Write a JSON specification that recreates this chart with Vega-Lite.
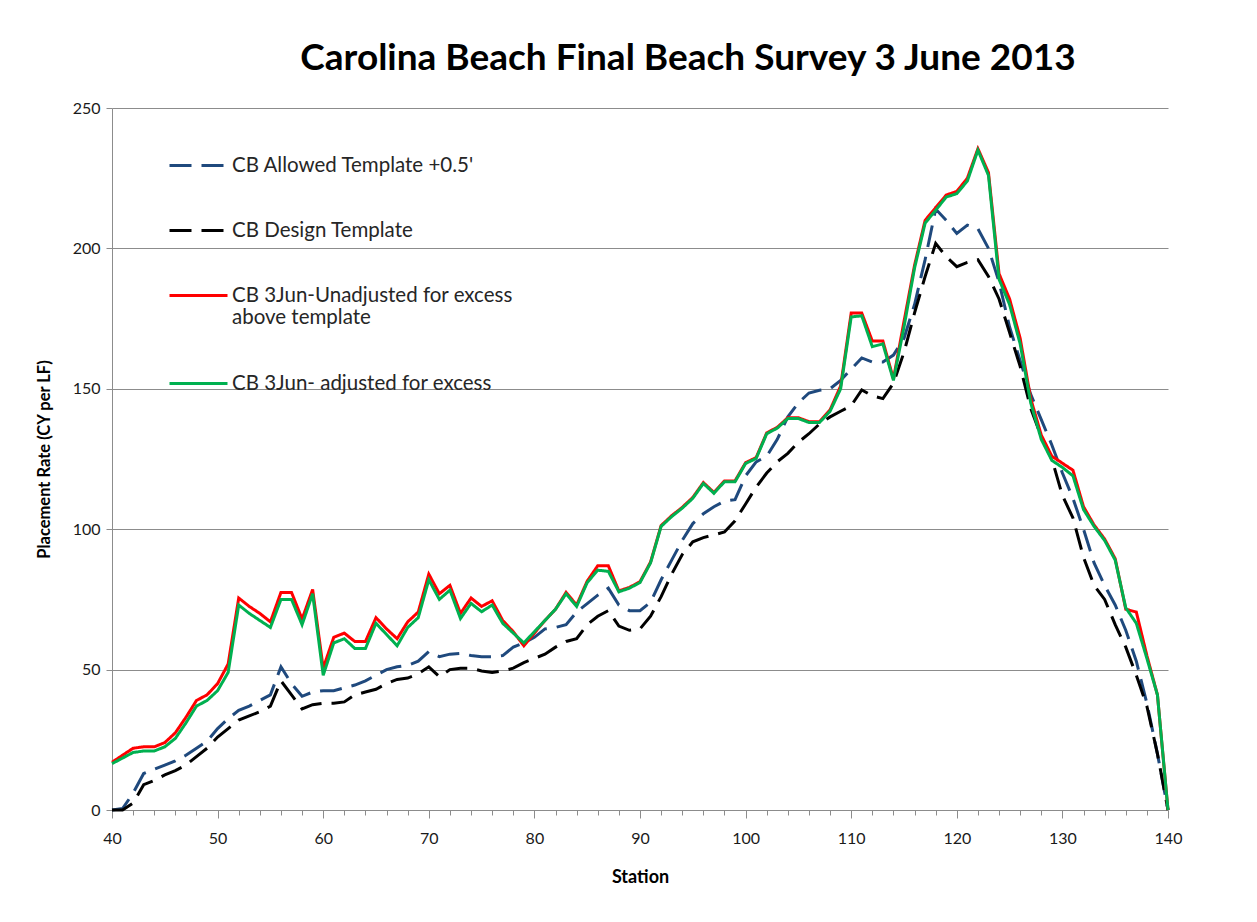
{
  "$schema": "https://vega.github.io/schema/vega-lite/v6.json",
  "width": 1056,
  "height": 702,
  "autosize": {"type": "none"},
  "padding": {"left": 112, "top": 108, "right": 89, "bottom": 112},
  "background": "white",
  "title": {"text": "Carolina Beach Final Beach Survey 3 June 2013", "font": "Lato", "fontSize": 37, "fontWeight": "bold", "color": "#000000", "anchor": "middle", "dx": 48, "offset": -7, "baseline": "alphabetic"},
  "config": {"view": {"stroke": null}},
  "data": {"values": [
    {"s":40,"A":0,"D":0,"U":17,"J":16.5},
    {"s":41,"A":0.5,"D":0,"U":19.5,"J":18.5},
    {"s":42,"A":6,"D":2.5,"U":22,"J":20.5},
    {"s":43,"A":13,"D":9,"U":22.5,"J":21},
    {"s":44,"A":14.5,"D":10.5,"U":22.5,"J":21},
    {"s":45,"A":16,"D":12.5,"U":24,"J":22.5},
    {"s":46,"A":17.5,"D":14,"U":27.5,"J":25.5},
    {"s":47,"A":19.5,"D":16,"U":33,"J":31},
    {"s":48,"A":22,"D":19,"U":39,"J":37},
    {"s":49,"A":24.5,"D":22,"U":41,"J":39},
    {"s":50,"A":29,"D":26,"U":45,"J":42.5},
    {"s":51,"A":32.5,"D":29,"U":52,"J":49},
    {"s":52,"A":35.5,"D":32,"U":75.5,"J":73},
    {"s":53,"A":37,"D":33.5,"U":72.5,"J":70},
    {"s":54,"A":39,"D":35,"U":70,"J":67.5},
    {"s":55,"A":41,"D":37,"U":67,"J":65},
    {"s":56,"A":51,"D":46,"U":77.5,"J":75},
    {"s":57,"A":45,"D":41,"U":77.5,"J":75},
    {"s":58,"A":40.5,"D":36,"U":68,"J":66},
    {"s":59,"A":42,"D":37.5,"U":78.5,"J":77},
    {"s":60,"A":42.5,"D":38,"U":50.5,"J":48},
    {"s":61,"A":42.5,"D":38,"U":61.5,"J":59.5},
    {"s":62,"A":43.5,"D":38.5,"U":63,"J":61},
    {"s":63,"A":44.5,"D":41,"U":60,"J":57.5},
    {"s":64,"A":46,"D":42,"U":60,"J":57.5},
    {"s":65,"A":48,"D":43,"U":68.5,"J":66.5},
    {"s":66,"A":50,"D":45,"U":64.5,"J":62.5},
    {"s":67,"A":51,"D":46.5,"U":61,"J":58.5},
    {"s":68,"A":51.5,"D":47,"U":67,"J":65},
    {"s":69,"A":53,"D":48.5,"U":70.5,"J":68.5},
    {"s":70,"A":56.4,"D":51,"U":84,"J":82},
    {"s":71,"A":54.6,"D":47.5,"U":77,"J":75},
    {"s":72,"A":55.5,"D":50,"U":80,"J":78.3},
    {"s":73,"A":55.8,"D":50.5,"U":70,"J":68.2},
    {"s":74,"A":55,"D":50.5,"U":75.5,"J":73.6},
    {"s":75,"A":54.6,"D":49.5,"U":72.5,"J":70.6},
    {"s":76,"A":54.6,"D":49,"U":74.5,"J":73},
    {"s":77,"A":55,"D":49.5,"U":67.5,"J":66.5},
    {"s":78,"A":58,"D":50.5,"U":63.5,"J":63},
    {"s":79,"A":59.5,"D":52.5,"U":58.5,"J":59.5},
    {"s":80,"A":61.5,"D":54,"U":63,"J":63.5},
    {"s":81,"A":64.5,"D":55.5,"U":67.5,"J":67.5},
    {"s":82,"A":65,"D":58,"U":71.5,"J":71.5},
    {"s":83,"A":66,"D":60,"U":77.5,"J":77},
    {"s":84,"A":70.5,"D":61,"U":73,"J":72.5},
    {"s":85,"A":73.5,"D":66,"U":81.5,"J":81},
    {"s":86,"A":76.5,"D":69,"U":87,"J":85.4},
    {"s":87,"A":79,"D":71,"U":87,"J":85},
    {"s":88,"A":73,"D":65.5,"U":78,"J":77.7},
    {"s":89,"A":71,"D":64,"U":79.3,"J":79},
    {"s":90,"A":71,"D":64.5,"U":81.3,"J":81},
    {"s":91,"A":74,"D":69,"U":88.3,"J":88},
    {"s":92,"A":82,"D":76,"U":101.3,"J":101},
    {"s":93,"A":89,"D":84,"U":104.8,"J":104.5},
    {"s":94,"A":96,"D":91,"U":107.8,"J":107.5},
    {"s":95,"A":102,"D":95.5,"U":111.3,"J":111},
    {"s":96,"A":105.5,"D":97,"U":116.6,"J":116.3},
    {"s":97,"A":108,"D":98,"U":113.1,"J":112.8},
    {"s":98,"A":110,"D":99,"U":117.2,"J":116.9},
    {"s":99,"A":110.5,"D":103,"U":117.2,"J":116.9},
    {"s":100,"A":119,"D":109,"U":123.7,"J":123.4},
    {"s":101,"A":124,"D":115,"U":125.5,"J":125.2},
    {"s":102,"A":126,"D":120,"U":134.3,"J":134},
    {"s":103,"A":132,"D":124,"U":136.3,"J":136},
    {"s":104,"A":140,"D":127,"U":139.7,"J":139.4},
    {"s":105,"A":145,"D":131,"U":139.7,"J":139.4},
    {"s":106,"A":148.5,"D":134,"U":138.3,"J":138},
    {"s":107,"A":149.5,"D":137.5,"U":138.3,"J":138},
    {"s":108,"A":150,"D":140,"U":142.5,"J":142},
    {"s":109,"A":153,"D":142,"U":151,"J":150},
    {"s":110,"A":157,"D":144,"U":177,"J":175.6},
    {"s":111,"A":161,"D":149.6,"U":177,"J":176},
    {"s":112,"A":159.5,"D":147.5,"U":167,"J":165},
    {"s":113,"A":159.5,"D":146.5,"U":167,"J":166},
    {"s":114,"A":162,"D":152,"U":153.5,"J":153},
    {"s":115,"A":168,"D":163,"U":174,"J":172},
    {"s":116,"A":180,"D":177,"U":194,"J":193},
    {"s":117,"A":196,"D":190,"U":210,"J":209},
    {"s":118,"A":214,"D":201.8,"U":214.5,"J":213.6},
    {"s":119,"A":210,"D":197,"U":219,"J":218.3},
    {"s":120,"A":205.3,"D":193.5,"U":220.3,"J":219.5},
    {"s":121,"A":208.3,"D":195,"U":225,"J":224},
    {"s":122,"A":207,"D":196,"U":235.5,"J":235},
    {"s":123,"A":200,"D":190,"U":227,"J":226},
    {"s":124,"A":188,"D":182,"U":191,"J":189},
    {"s":125,"A":172,"D":170,"U":182,"J":180},
    {"s":126,"A":160,"D":158,"U":168,"J":166},
    {"s":127,"A":148,"D":143,"U":146.5,"J":145},
    {"s":128,"A":139,"D":133,"U":133.5,"J":132},
    {"s":129,"A":130,"D":125,"U":126,"J":124.5},
    {"s":130,"A":120,"D":112,"U":123.5,"J":122},
    {"s":131,"A":111,"D":104,"U":121,"J":119},
    {"s":132,"A":100,"D":90,"U":108,"J":107},
    {"s":133,"A":88,"D":80,"U":101.5,"J":101},
    {"s":134,"A":80,"D":75,"U":96.5,"J":96},
    {"s":135,"A":73,"D":66,"U":89.5,"J":89},
    {"s":136,"A":64,"D":58,"U":71.5,"J":72},
    {"s":137,"A":53,"D":48,"U":70.5,"J":66.5},
    {"s":138,"A":38,"D":37,"U":55,"J":54},
    {"s":139,"A":20,"D":20,"U":41,"J":41},
    {"s":140,"A":0,"D":0,"U":0,"J":0}
  ]},
  "transform": [{"fold": ["A", "D", "U", "J"], "as": ["series", "value"]}],
  "mark": {"type": "line", "strokeWidth": 3},
  "encoding": {
    "x": {
      "field": "s", "type": "quantitative",
      "scale": {"domain": [40, 140], "nice": false, "zero": false},
      "axis": {
        "values": [40,42,44,46,48,50,52,54,56,58,60,62,64,66,68,70,72,74,76,78,80,82,84,86,88,90,92,94,96,98,100,102,104,106,108,110,112,114,116,118,120,122,124,126,128,130,132,134,136,138,140],
        "labelExpr": "datum.value % 10 === 0 ? datum.label : ''",
        "tickSize": {"condition": {"test": "datum.value % 10 === 0", "value": 8}, "value": 5},
        "labelOverlap": false, "labelFlush": false,
        "grid": false,
        "domainColor": "#8c8c8c", "tickColor": "#8c8c8c", "tickWidth": 1,
        "labelFont": "Lato", "labelFontSize": 16, "labelColor": "#1a1a1a", "labelPadding": 12,
        "title": "Station", "titleFont": "Lato", "titleFontSize": 18, "titleFontWeight": "bold", "titleColor": "#000000", "titlePadding": 22
      }
    },
    "y": {
      "field": "value", "type": "quantitative",
      "scale": {"domain": [0, 250], "nice": false},
      "axis": {
        "values": [0, 50, 100, 150, 200, 250],
        "grid": true, "gridColor": "#8c8c8c", "gridWidth": 1,
        "domainColor": "#8c8c8c", "tickColor": "#8c8c8c", "tickSize": 6,
        "labelFont": "Lato", "labelFontSize": 16, "labelColor": "#1a1a1a", "labelPadding": 6,
        "title": "Placement Rate (CY per LF)", "titleFont": "Lato", "titleFontSize": 16.5, "titleFontWeight": "bold", "titleColor": "#000000", "titlePadding": 20
      }
    },
    "color": {
      "field": "series", "type": "nominal",
      "scale": {"domain": ["A", "D", "U", "J"], "range": ["#1F497D", "#000000", "#FF0000", "#00B050"]},
      "legend": {
        "orient": "none", "legendX": 56, "legendY": 27, "title": null,
        "symbolType": "stroke", "symbolSize": 3364, "symbolStrokeWidth": 3,
        "labelFont": "Lato", "labelFontSize": 20.5, "labelColor": "#262626", "labelOffset": 3, "labelLimit": 600,
        "rowPadding": 24,
        "labelExpr": "datum.label == 'A' ? 'CB Allowed Template  +0.5\\'' : datum.label == 'D' ? 'CB Design  Template' : datum.label == 'U' ? ['CB 3Jun-Unadjusted  for excess', 'above template'] : 'CB 3Jun- adjusted  for excess'"
      }
    },
    "strokeDash": {
      "field": "series", "type": "nominal",
      "scale": {"domain": ["A", "D", "U", "J"], "range": [[22, 10], [22, 10], [1, 0], [1, 0]]},
      "legend": {
        "orient": "none", "legendX": 56, "legendY": 27, "title": null,
        "symbolType": "stroke", "symbolSize": 3364, "symbolStrokeWidth": 3,
        "labelFont": "Lato", "labelFontSize": 20.5, "labelColor": "#262626", "labelOffset": 3, "labelLimit": 600,
        "rowPadding": 24,
        "labelExpr": "datum.label == 'A' ? 'CB Allowed Template  +0.5\\'' : datum.label == 'D' ? 'CB Design  Template' : datum.label == 'U' ? ['CB 3Jun-Unadjusted  for excess', 'above template'] : 'CB 3Jun- adjusted  for excess'"
      }
    }
  }
}
